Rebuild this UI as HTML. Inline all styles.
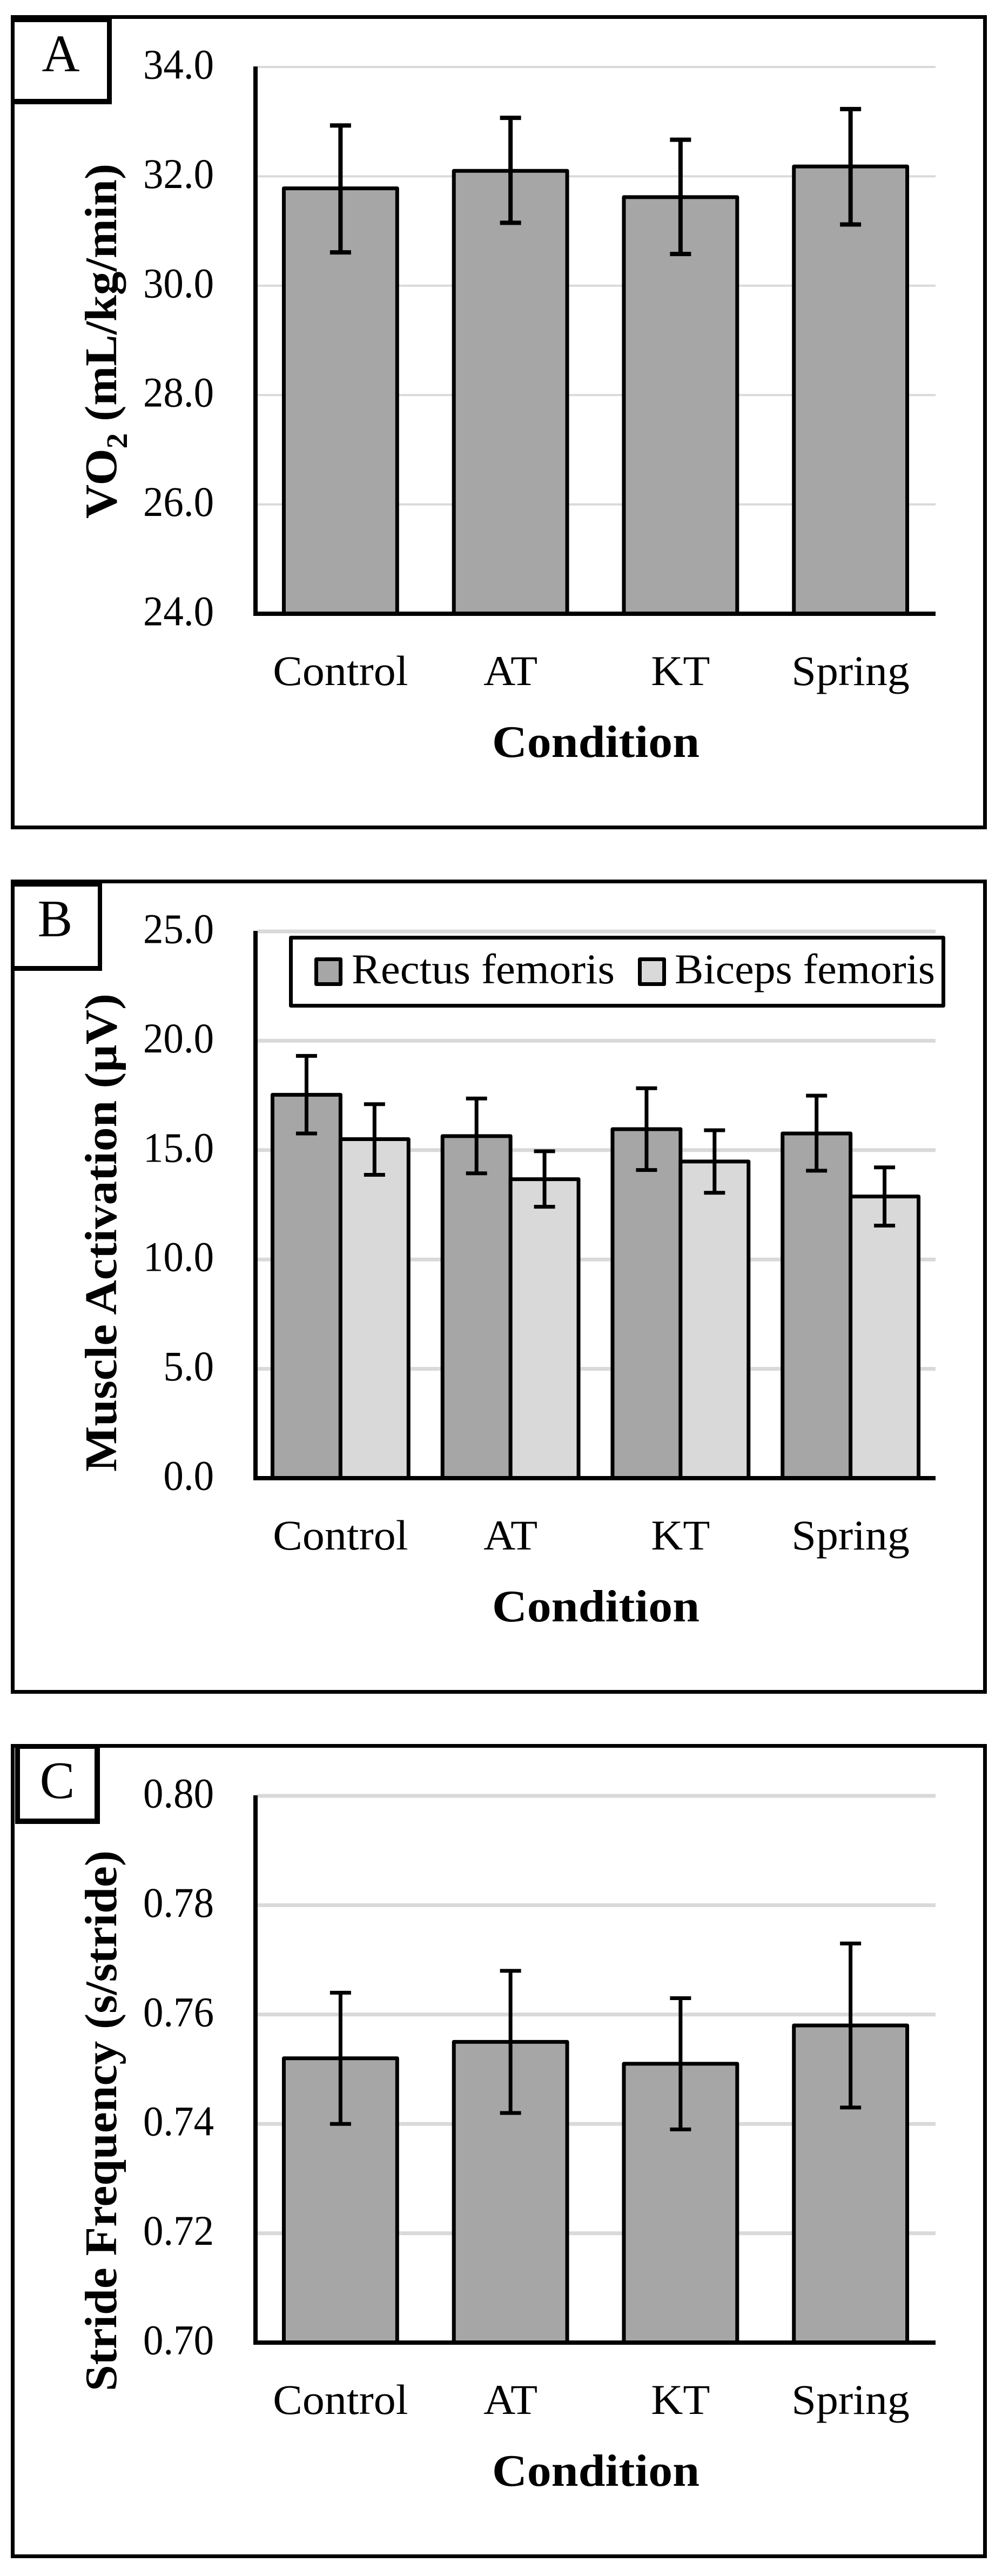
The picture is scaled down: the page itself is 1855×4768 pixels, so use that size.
<!DOCTYPE html>
<html lang="en">
<head>
<meta charset="utf-8">
<title>Running economy, muscle activation and stride frequency by condition</title>
<style>
  html, body { margin: 0; padding: 0; background: #fff; }
  svg { display: block; }
  text { font-family: "Liberation Serif", serif; fill: #000; }
  .title { font-weight: bold; font-size: 84px; }
  .letter { font-size: 97px; text-anchor: middle; }
  .legend-text { font-size: 78px; }
</style>
</head>
<body>
<svg id="figure" xmlns="http://www.w3.org/2000/svg" width="1855" height="4768" viewBox="0 0 1855 4768">
  <rect x="0" y="0" width="1855" height="4768" fill="#fff"/>

  <!-- Panel A -->
  <g>
    <rect x="23.5" y="31.5" width="1800" height="1500" fill="#fff" stroke="#000" stroke-width="7"/>
    <g id="marks-a"></g>
    <text class="title" transform="translate(215,960) rotate(-90)" textLength="657" lengthAdjust="spacingAndGlyphs">VO<tspan font-size="55" dy="20">2</tspan><tspan dy="-20"> (mL/kg/min)</tspan></text>
    <text class="title" x="911" y="1401" textLength="384" lengthAdjust="spacingAndGlyphs">Condition</text>
    <path fill="#000" fill-rule="evenodd" d="M20 28H207V193H20ZM27 41V183H198V41Z"/>
    <text class="letter" x="112.5" y="132">A</text>
  </g>

  <!-- Panel B -->
  <g>
    <rect x="23.5" y="1631.5" width="1800" height="1500" fill="#fff" stroke="#000" stroke-width="7"/>
    <g id="marks-b"></g>
    <text class="title" transform="translate(215,2724) rotate(-90)" textLength="885" lengthAdjust="spacingAndGlyphs">Muscle Activation (µV)</text>
    <text class="title" x="911" y="3001" textLength="384" lengthAdjust="spacingAndGlyphs">Condition</text>
    <g>
      <rect x="538.5" y="1735.5" width="1208" height="126" fill="#fff" stroke="#000" stroke-width="7" stroke-linejoin="round"/>
      <rect x="585.5" y="1775.5" width="45" height="46" fill="#a6a6a6" stroke="#000" stroke-width="7" stroke-linejoin="round"/>
      <text class="legend-text" x="651" y="1820" textLength="487" lengthAdjust="spacingAndGlyphs">Rectus femoris</text>
      <rect x="1184.5" y="1775.5" width="45" height="46" fill="#d9d9d9" stroke="#000" stroke-width="7" stroke-linejoin="round"/>
      <text class="legend-text" x="1249" y="1820" textLength="482" lengthAdjust="spacingAndGlyphs">Biceps femoris</text>
    </g>
    <path fill="#000" fill-rule="evenodd" d="M20 1628H189V1797H20ZM27 1641V1788H181V1641Z"/>
    <text class="letter" x="102" y="1733">B</text>
  </g>

  <!-- Panel C -->
  <g>
    <rect x="23.5" y="3231.5" width="1800" height="1500" fill="#fff" stroke="#000" stroke-width="7"/>
    <g id="marks-c"></g>
    <text class="title" transform="translate(215,4426) rotate(-90)" textLength="1001" lengthAdjust="spacingAndGlyphs">Stride Frequency (s/stride)</text>
    <text class="title" x="911" y="4601" textLength="384" lengthAdjust="spacingAndGlyphs">Condition</text>
    <rect x="27" y="3235" width="1" height="141" fill="#fff"/>
    <path fill="#000" fill-rule="evenodd" d="M28 3228H185V3376H28ZM37 3237V3366H175V3237Z"/>
    <text class="letter" x="106" y="3328">C</text>
  </g>
</svg>

<script>
// Shared categories
const categories = ['Control', 'AT', 'KT', 'Spring'];

// Panel A: VO2 (mL/kg/min)
const ticksA = ['24.0', '26.0', '28.0', '30.0', '32.0', '34.0'];
const vo2Mean = [31.78, 32.10, 31.62, 32.18];
const vo2High = [32.93, 33.07, 32.67, 33.23];
const vo2Low = [30.61, 31.15, 30.58, 31.12];

// Panel B: Muscle activation (µV)
const ticksB = ['0.0', '5.0', '10.0', '15.0', '20.0', '25.0'];
const rectusMean = [17.53, 15.64, 15.96, 15.76];
const rectusHigh = [19.31, 17.36, 17.83, 17.49];
const rectusLow = [15.76, 13.94, 14.09, 14.06];
const bicepsMean = [15.50, 13.67, 14.48, 12.88];
const bicepsHigh = [17.10, 14.95, 15.91, 14.21];
const bicepsLow = [13.87, 12.41, 13.05, 11.55];

// Panel C: Stride frequency (s/stride)
const ticksC = ['0.70', '0.72', '0.74', '0.76', '0.78', '0.80'];
const strideMean = [0.752, 0.755, 0.751, 0.758];
const strideHigh = [0.764, 0.768, 0.763, 0.773];
const strideLow = [0.740, 0.742, 0.739, 0.743];

const SVG_NS = 'http://www.w3.org/2000/svg';
const PLOT_LEFT = 473;
const PLOT_RIGHT = 1732;
const PLOT_TOP = 124;
const PLOT_BOTTOM = 1136;

function make(parent, tag, attrs, content) {
  const el = document.createElementNS(SVG_NS, tag);
  for (const key in attrs) el.setAttribute(key, attrs[key]);
  if (content !== undefined) el.textContent = content;
  parent.appendChild(el);
  return el;
}

function drawPanel(panel) {
  const root = document.getElementById(panel.id);
  const off = panel.offset;
  const tickNums = panel.ticks.map(Number);
  const yMin = tickNums[0];
  const yMax = tickNums[tickNums.length - 1];
  const y = function (v) {
    return off + PLOT_BOTTOM - (v - yMin) / (yMax - yMin) * (PLOT_BOTTOM - PLOT_TOP);
  };
  const band = (PLOT_RIGHT - PLOT_LEFT) / categories.length;
  const center = function (i) {
    return PLOT_LEFT + band * (i + 0.5);
  };
  const barW = band / (panel.series.length + 0.5);

  panel.ticks.forEach(function (label) {
    const v = Number(label);
    if (v !== yMin) {
      const grid = make(root, 'line', { x1: PLOT_LEFT + 4, x2: PLOT_RIGHT, y1: y(v), y2: y(v), stroke: '#d9d9d9', 'stroke-width': panel.gridWidth });
      
      
    }
    const tick = make(root, 'text', {
      transform: 'translate(396,' + (y(v) + 21.5) + ') scale(0.96,1)',
      'text-anchor': 'end', 'font-size': 78
    }, label);
    
    
  });

  panel.series.forEach(function (s, si) {
    categories.forEach(function (cat, i) {
      const left = center(i) - barW * panel.series.length / 2 + barW * si;
      const bar = make(root, 'rect', {
        x: left, y: y(s.mean[i]), width: barW, height: y(yMin) - y(s.mean[i]),
        fill: s.fill, stroke: '#000', 'stroke-width': 7, 'stroke-linejoin': 'round'
      });
      
      
    });
  });

  const yAxis = make(root, 'line', { x1: PLOT_LEFT, x2: PLOT_LEFT, y1: off + PLOT_TOP - 1, y2: off + PLOT_BOTTOM + 4, stroke: '#000', 'stroke-width': 8 });
  
  
  const xAxis = make(root, 'line', { x1: PLOT_LEFT - 4, x2: PLOT_RIGHT, y1: off + PLOT_BOTTOM, y2: off + PLOT_BOTTOM, stroke: '#000', 'stroke-width': 8 });
  
  

  panel.series.forEach(function (s, si) {
    categories.forEach(function (cat, i) {
      const cx = center(i) - barW * panel.series.length / 2 + barW * (si + 0.5);
      const hi = y(s.high[i]);
      const lo = y(s.low[i]);
      const d = 'M' + cx + ' ' + hi + 'V' + lo +
        'M' + (cx - 19.5) + ' ' + hi + 'H' + (cx + 19.5) +
        'M' + (cx - 19.5) + ' ' + lo + 'H' + (cx + 19.5);
      const err = make(root, 'path', { d: d, fill: 'none', stroke: '#000', 'stroke-width': panel.errWidth });
      
      
    });
  });

  categories.forEach(function (cat, i) {
    const label = make(root, 'text', {
      transform: 'translate(' + center(i) + ',' + (off + 1268) + ') scale(1.05,1)',
      'text-anchor': 'middle', 'font-size': 78
    }, cat);
    
    
  });
}

drawPanel({
  id: 'marks-a', offset: 0, ticks: ticksA, gridWidth: 4, errWidth: 8,
  series: [{ key: 'vo2', fill: '#a6a6a6', mean: vo2Mean, high: vo2High, low: vo2Low }]
});
drawPanel({
  id: 'marks-b', offset: 1600, ticks: ticksB, gridWidth: 7, errWidth: 7,
  series: [
    { key: 'rectus-femoris', fill: '#a6a6a6', mean: rectusMean, high: rectusHigh, low: rectusLow },
    { key: 'biceps-femoris', fill: '#d9d9d9', mean: bicepsMean, high: bicepsHigh, low: bicepsLow }
  ]
});
drawPanel({
  id: 'marks-c', offset: 3200, ticks: ticksC, gridWidth: 7, errWidth: 7,
  series: [{ key: 'stride', fill: '#a6a6a6', mean: strideMean, high: strideHigh, low: strideLow }]
});
</script>
</body>
</html>
